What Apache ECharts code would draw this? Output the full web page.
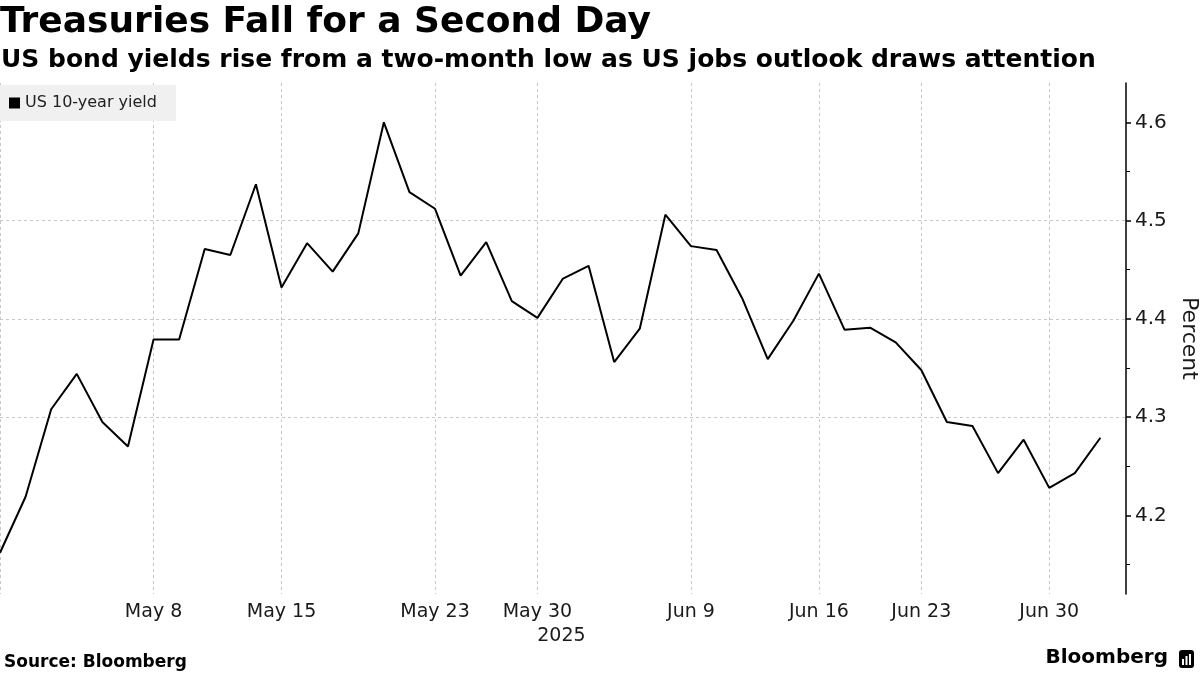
<!DOCTYPE html>
<html>
<head>
<meta charset="utf-8">
<script src="https://cdn.jsdelivr.net/npm/echarts@6/dist/echarts.min.js"></script>
<style>
  html, body { margin: 0; padding: 0; background: #fff; }
  #chart { width: 1200px; height: 675px; }
</style>
</head>
<body>
<div id="chart"></div>
<script>
// trading days, last slot (Jul 3) only closes the axis
var days = [
  "Apr 30", "May 1", "May 2", "May 5", "May 6", "May 7", "May 8", "May 9",
  "May 12", "May 13", "May 14", "May 15", "May 16", "May 19", "May 20", "May 21",
  "May 22", "May 23", "May 27", "May 28", "May 29", "May 30", "Jun 2", "Jun 3",
  "Jun 4", "Jun 5", "Jun 6", "Jun 9", "Jun 10", "Jun 11", "Jun 12", "Jun 13",
  "Jun 16", "Jun 17", "Jun 18", "Jun 20", "Jun 23", "Jun 24", "Jun 25", "Jun 26",
  "Jun 27", "Jun 30", "Jul 1", "Jul 2", "Jul 3"
];
var yield10 = [
  4.162, 4.219, 4.308, 4.344, 4.295, 4.270, 4.379, 4.379,
  4.471, 4.465, 4.537, 4.432, 4.477, 4.448, 4.487, 4.600,
  4.529, 4.512, 4.444, 4.478, 4.418, 4.401, 4.441, 4.454,
  4.356, 4.390, 4.506, 4.474, 4.470, 4.421, 4.359, 4.398,
  4.446, 4.389, 4.391, 4.376, 4.348, 4.295, 4.291, 4.243,
  4.277, 4.228, 4.243, 4.279, null
];
var labelDays = ["May 8", "May 15", "May 23", "May 30", "Jun 9", "Jun 16", "Jun 23", "Jun 30"];
var yearLabel = { "May 30": "2025" };
var yTicks = [4.2, 4.3, 4.4, 4.5, 4.6];

var font = "DejaVu Sans";
var chart = echarts.init(document.getElementById("chart"));

var option = {
  backgroundColor: "#fff",
  animation: false,
  title: [
    {
      text: "Treasuries Fall for a Second Day",
      left: 0, top: 5, padding: 0,
      textStyle: { fontFamily: font, fontWeight: "bold", fontSize: 36, color: "#000" }
    },
    {
      text: "US bond yields rise from a two-month low as US jobs outlook draws attention",
      left: 1, top: 48, padding: 0,
      textStyle: { fontFamily: font, fontWeight: "bold", fontSize: 25, color: "#000" }
    },
    {
      text: "Source: Bloomberg",
      left: 4, top: 654, padding: 0,
      textStyle: { fontFamily: font, fontWeight: "bold", fontSize: 17, color: "#000" }
    }
  ],
  legend: {
    left: 0, top: 85,
    padding: [10, 19, 10, 9],
    backgroundColor: "#f0f0f0",
    icon: "rect",
    itemWidth: 11, itemHeight: 11, itemGap: 6,
    textStyle: { fontFamily: font, fontSize: 16, color: "#222" },
    data: ["US 10-year yield"]
  },
  grid: { left: 0, right: 74, top: 83, bottom: 81, containLabel: false, outerBoundsMode: "none" },
  xAxis: {
    type: "category",
    data: days,
    boundaryGap: false,
    axisLine: { show: false },
    axisTick: { show: false },
    axisLabel: {
      interval: function (i, v) { return labelDays.indexOf(v) >= 0; },
      formatter: function (v) {
        return yearLabel[v] ? v + "\n{yr|" + yearLabel[v] + "}" : v;
      },
      fontFamily: font, fontSize: 19, color: "#1a1a1a",
      margin: 6, lineHeight: 24,
      rich: { yr: { fontFamily: font, fontSize: 19, color: "#1a1a1a", lineHeight: 24, padding: [0, 0, 0, 48] } }
    },
    splitLine: {
      show: true,
      interval: function (i, v) { return i === 0 || labelDays.indexOf(v) >= 0; },
      lineStyle: { color: "#c8c8c8", type: [3, 3], width: 1 }
    }
  },
  yAxis: {
    type: "value",
    position: "right",
    min: 4.12, max: 4.64,
    name: "Percent",
    nameLocation: "middle",
    nameRotate: -90,
    nameGap: 48,
    nameTextStyle: { fontFamily: font, fontSize: 22, color: "#1a1a1a" },
    axisLine: { show: true, lineStyle: { color: "#000", width: 1.5 } },
    axisTick: { show: true, inside: false, length: 5, customValues: yTicks, lineStyle: { color: "#000", width: 1.5 } },
    minorTick: { show: true, splitNumber: 2, length: 4, lineStyle: { color: "#000", width: 1 } },
    axisLabel: {
      customValues: yTicks,
      margin: 9,
      fontFamily: font, fontSize: 20, color: "#1a1a1a",
      formatter: function (v) { return v.toFixed(1); }
    },
    splitLine: {
      show: true, showMinLine: false, showMaxLine: false,
      lineStyle: { color: "#c8c8c8", type: [3, 3], width: 1 }
    }
  },
  series: [
    {
      name: "US 10-year yield",
      type: "line",
      data: yield10,
      symbol: "none",
      color: "#000",
      lineStyle: { color: "#000", width: 2 }
    }
  ],
  graphic: [
    {
      type: "text", right: 32, top: 648,
      style: { text: "Bloomberg", fontFamily: font, fontWeight: "bold", fontSize: 20, fill: "#000" }
    },
    {
      type: "group", right: 6, top: 650,
      children: [
        { type: "rect", shape: { x: 0, y: 0, width: 15, height: 18, r: 3 }, style: { fill: "#000" } },
        { type: "rect", shape: { x: 3, y: 9, width: 2, height: 6 }, style: { fill: "#fff" } },
        { type: "rect", shape: { x: 6.5, y: 6, width: 2, height: 9 }, style: { fill: "#fff" } },
        { type: "rect", shape: { x: 10, y: 4, width: 2, height: 11 }, style: { fill: "#fff" } }
      ]
    }
  ]
};

chart.setOption(option);
</script>
</body>
</html>
